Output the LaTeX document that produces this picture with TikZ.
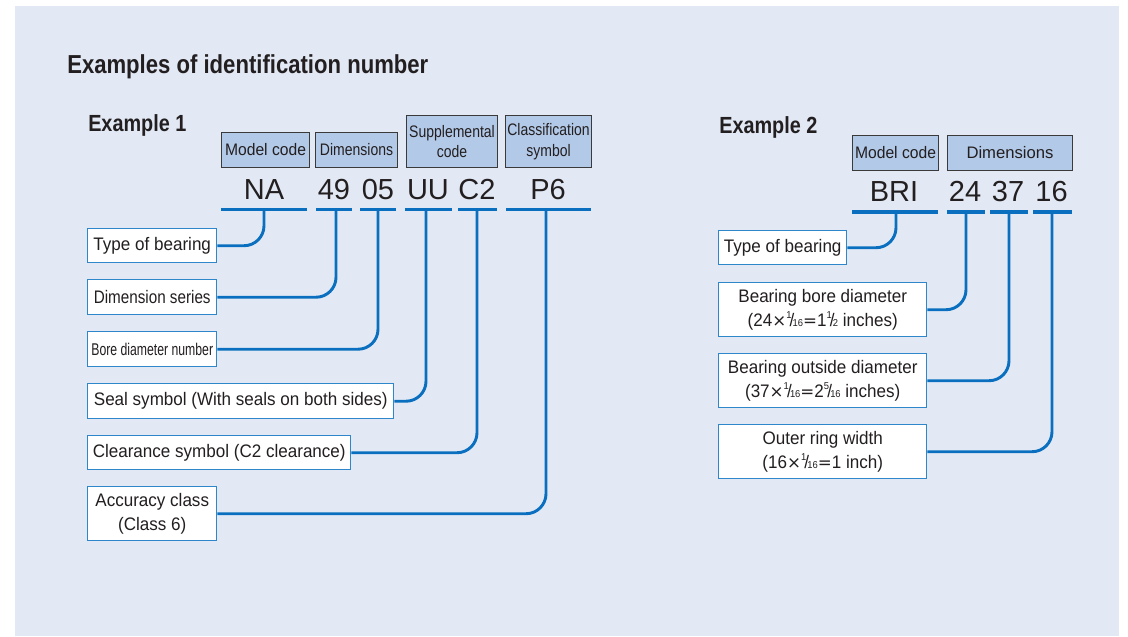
\documentclass[tikz,border=0pt]{standalone}
\usepackage{fontspec}
\setmainfont{Liberation Sans}[FakeStretch=0.94]
\newfontfamily\nfont{Liberation Sans}[FakeStretch=0.84]
\newfontfamily\nnfont{Liberation Sans}[FakeStretch=0.72]
\newfontfamily\tfont{Liberation Sans}[FakeStretch=0.85]
\newfontfamily\cfont{Liberation Sans}
\newfontfamily\symfont{DejaVu Sans}
\definecolor{panelbg}{HTML}{E2E9F5}
\definecolor{hdrfill}{HTML}{B3C9E8}
\definecolor{hdrborder}{HTML}{3A3A3A}
\definecolor{boxborder}{HTML}{2F87CB}
\definecolor{lineblue}{HTML}{0A6FBF}
\definecolor{ink}{HTML}{231F20}
\newcommand\fr[2]{\raisebox{0.42em}{\fontsize{7.5}{7.5}\selectfont#1}\kern-0.1em/\kern-0.1em{\fontsize{7.5}{7.5}\selectfont#2}}
\newcommand\tms{{\symfont\fontsize{12.5}{12.5}\selectfont ×}}
\newcommand\eqs{{\symfont\fontsize{12.5}{12.5}\selectfont =}}
\begin{document}
\begin{tikzpicture}[x=0.75pt,y=-0.75pt,
  every node/.style={text=ink},
  hdr/.style={draw=hdrborder, fill=hdrfill, line width=0.8pt, inner sep=0pt, anchor=north west, align=center, font=\fontsize{12.5}{15.5}\selectfont},
  lbox/.style={draw=boxborder, fill=white, line width=1.1pt, inner sep=0pt, anchor=north west, align=center, font=\fontsize{13.6}{17.4}\selectfont},
  codetxt/.style={font=\cfont\fontsize{21.75}{24}\selectfont, anchor=base, inner sep=0pt},
  heading/.style={font=\tfont\bfseries\fontsize{17.5}{20}\selectfont, anchor=base west, inner sep=0pt},
  uline/.style={draw=lineblue, line width=2.3pt},
  conn/.style={draw=lineblue, line width=2.2pt, rounded corners=15pt}
]
\useasboundingbox (0,0) rectangle (1128,636);
\fill[panelbg] (15,6) rectangle (1119,636);

\node[font=\tfont\bfseries\fontsize{19.5}{22}\selectfont, anchor=base west, inner sep=0pt] (title) at (67,73) {Examples of identification number};

% ---------- Example 1 ----------
\node[heading] (ex1) at (88,131) {Example 1};
\node[hdr, minimum width=88*0.75pt, minimum height=35*0.75pt] (mc1) at (221,132) {Model code};
\node[hdr, minimum width=82*0.75pt, minimum height=35*0.75pt, font=\nfont\fontsize{12.5}{15.5}\selectfont] (dm1) at (315,132) {Dimensions};
\node[hdr, minimum width=91*0.75pt, minimum height=52*0.75pt, font=\nfont\fontsize{12.5}{15.5}\selectfont] (sc1) at (406,115) {Supplemental\\code};
\node[hdr, minimum width=86*0.75pt, minimum height=52*0.75pt, font=\nfont\fontsize{12.5}{15.5}\selectfont] (cl1) at (505,115) {Classification\\symbol};

\node[codetxt] (cNA) at (264,199) {NA};
\node[codetxt] (c49) at (334,199) {49};
\node[codetxt] (c05) at (378,199) {05};
\node[codetxt] (cUU) at (428,199) {UU};
\node[codetxt] (cC2) at (477,199) {C2};
\node[codetxt] (cP6) at (548,199) {P6};

\draw[uline] (221,209.5) -- (307,209.5);
\draw[uline] (316,209.5) -- (352,209.5);
\draw[uline] (360,209.5) -- (396,209.5);
\draw[uline] (405,209.5) -- (452,209.5);
\draw[uline] (458,209.5) -- (497,209.5);
\draw[uline] (506,209.5) -- (591,209.5);
\coordinate (uNA) at (264,209.5);
\coordinate (u49) at (336,209.5);
\coordinate (u05) at (378,209.5);
\coordinate (uUU) at (426,209.5);
\coordinate (uC2) at (477,209.5);
\coordinate (uP6) at (546,209.5);

\node[lbox, minimum width=129*0.75pt, minimum height=34*0.75pt] (tb1) at (87,228) {Type of bearing};
\node[lbox, minimum width=129*0.75pt, minimum height=35*0.75pt, font=\nfont\fontsize{13.6}{17.4}\selectfont] (ds1) at (87,279) {Dimension series};
\node[lbox, minimum width=129*0.75pt, minimum height=35*0.75pt, font=\nnfont\fontsize{12.75}{15}\selectfont] (bd1) at (87,331) {Bore diameter number};
\node[lbox, minimum width=306*0.75pt, minimum height=35*0.75pt] (ss1) at (87,383) {Seal symbol (With seals on both sides)};
\node[lbox, minimum width=263*0.75pt, minimum height=34*0.75pt] (cs1) at (87,435) {Clearance symbol (C2 clearance)};
\node[lbox, minimum width=129*0.75pt, minimum height=54*0.75pt] (ac1) at (87,486) {Accuracy class\\(Class 6)};

\draw[conn] (uNA) |- (tb1.east);
\draw[conn] (u49) |- (ds1.east);
\draw[conn] (u05) |- (bd1.east);
\draw[conn] (uUU) |- (ss1.east);
\draw[conn] (uC2) |- (cs1.east);
\draw[conn] (uP6) |- (ac1.east);

% ---------- Example 2 ----------
\node[heading] (ex2) at (719,133) {Example 2};
\node[hdr, minimum width=86*0.75pt, minimum height=35*0.75pt] (mc2) at (852,135) {Model code};
\node[hdr, minimum width=125*0.75pt, minimum height=35*0.75pt, font=\cfont\fontsize{12.5}{15.5}\selectfont] (dm2) at (947,135) {Dimensions};

\node[codetxt] (cBRI) at (894,201.5) {BRI};
\node[codetxt] (c24) at (965,201.5) {24};
\node[codetxt] (c37) at (1008,201.5) {37};
\node[codetxt] (c16) at (1051.5,201.5) {16};

\draw[uline] (852,212) -- (938,212);
\draw[uline] (947,212) -- (985,212);
\draw[uline] (990,212) -- (1028,212);
\draw[uline] (1033,212) -- (1072,212);
\coordinate (uBRI) at (896,212);
\coordinate (u24) at (966,212);
\coordinate (u37) at (1009,212);
\coordinate (u16) at (1052,212);

\node[lbox, minimum width=128*0.75pt, minimum height=34*0.75pt] (tb2) at (718,230) {Type of bearing};
\node[lbox, minimum width=208*0.75pt, minimum height=54*0.75pt] (bb2) at (718,282) {Bearing bore diameter\\(24\tms\fr{1}{16}\eqs1\fr{1}{2} inches)};
\node[lbox, minimum width=208*0.75pt, minimum height=54*0.75pt] (bo2) at (718,353) {Bearing outside diameter\\(37\tms\fr{1}{16}\eqs2\fr{5}{16} inches)};
\node[lbox, minimum width=208*0.75pt, minimum height=54*0.75pt] (or2) at (718,424) {Outer ring width\\(16\tms\fr{1}{16}\eqs1 inch)};

\draw[conn] (uBRI) |- (tb2.east);
\draw[conn] (u24) |- (bb2.east);
\draw[conn] (u37) |- (bo2.east);
\draw[conn] (u16) |- (or2.east);
\end{tikzpicture}
\end{document}
